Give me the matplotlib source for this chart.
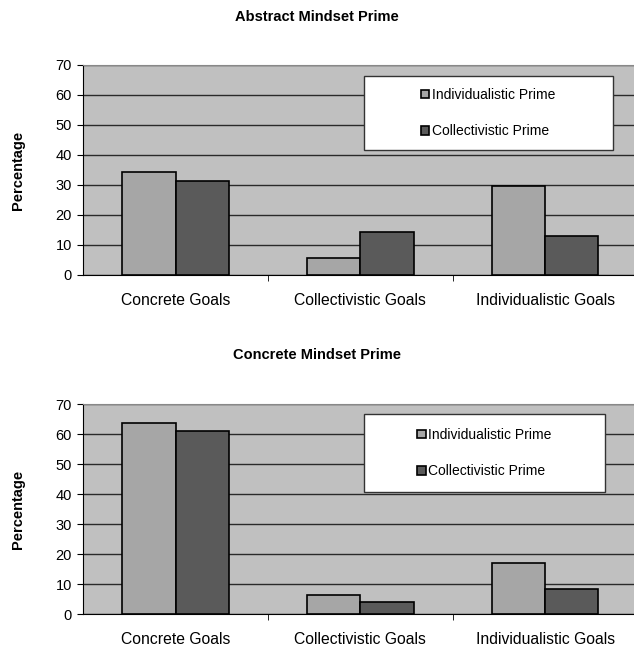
import numpy as np
import matplotlib.pyplot as plt
from matplotlib.patches import Rectangle

categories = ['Concrete Goals', 'Collectivistic Goals', 'Individualistic Goals']
series_names = ['Individualistic Prime', 'Collectivistic Prime']

# Abstract mindset prime (top panel)
abstract_indiv = [34.2, 5.8, 29.6]
abstract_coll = [31.4, 14.2, 12.9]

# Concrete mindset prime (bottom panel)
concrete_indiv = [63.6, 6.4, 16.9]
concrete_coll = [61.0, 4.1, 8.4]

titles = ['Abstract Mindset Prime', 'Concrete Mindset Prime']
yticks = [0, 10, 20, 30, 40, 50, 60, 70]

plt.rcParams['font.family'] = ['Liberation Sans', 'DejaVu Sans']

c_indiv = '#a6a6a6'
c_coll = '#5a5a5a'
c_bg = '#c0c0c0'


def draw_panel(ax, indiv, coll, legend_box):
    x = np.arange(len(categories))
    w = 0.287
    ax.set_facecolor(c_bg)
    ax.set_axisbelow(True)
    ax.grid(axis='y', color='#2a2a2a', linewidth=1.0)
    ax.bar(x - w / 2, indiv, w, color=c_indiv, edgecolor='black', linewidth=1.2,
           label=series_names[0], zorder=3)
    ax.bar(x + w / 2, coll, w, color=c_coll, edgecolor='black', linewidth=1.2,
           label=series_names[1], zorder=3)

    ax.set_xlim(-0.5, len(categories) - 0.5)
    ax.set_ylim(0, 70)
    ax.set_yticks(yticks)
    ax.set_yticklabels([str(t) for t in yticks], fontsize=10.5)
    ax.set_xticks(x)
    ax.set_xticklabels(categories, fontsize=11.3)
    ax.tick_params(axis='x', which='major', length=0, pad=13)
    ax.set_xticks(x[:-1] + 0.5, minor=True)
    ax.tick_params(axis='x', which='minor', length=4, direction='out')
    ax.tick_params(axis='y', length=4, direction='out', pad=4)
    ax.set_ylabel('Percentage', fontsize=10.5, fontweight='bold')
    ax.yaxis.set_label_coords(-0.104, 0.5)

    for s in ['top', 'right']:
        ax.spines[s].set_color('#888888')
    ax.spines['left'].set_color('black')
    ax.spines['bottom'].set_color('black')

    x0, y0, bw, bh = legend_box
    ax.add_patch(Rectangle((x0, y0), bw, bh, transform=ax.transAxes,
                           facecolor='white', edgecolor='#333333', linewidth=1.0, zorder=4))
    leg = ax.legend(loc='center', bbox_to_anchor=(x0, y0, bw, bh),
                    bbox_transform=ax.transAxes, frameon=False, fontsize=10,
                    handlelength=0.6, handleheight=0.6, handletextpad=0.2,
                    labelspacing=1.6)
    leg.set_zorder(5)


fig = plt.figure(figsize=(6.34, 6.51), dpi=100)
ax1 = fig.add_axes([0.131, 0.5776, 0.875, 0.3226])
ax2 = fig.add_axes([0.131, 0.0568, 0.875, 0.3226])

draw_panel(ax1, abstract_indiv, abstract_coll, (0.506, 0.595, 0.449, 0.353))
draw_panel(ax2, concrete_indiv, concrete_coll, (0.506, 0.581, 0.435, 0.371))

fig.text(0.5, 0.974, titles[0], ha='center', va='center', fontsize=10.5, fontweight='bold')
fig.text(0.5, 0.455, titles[1], ha='center', va='center', fontsize=10.5, fontweight='bold')

fig.savefig('out.png', dpi=100)
